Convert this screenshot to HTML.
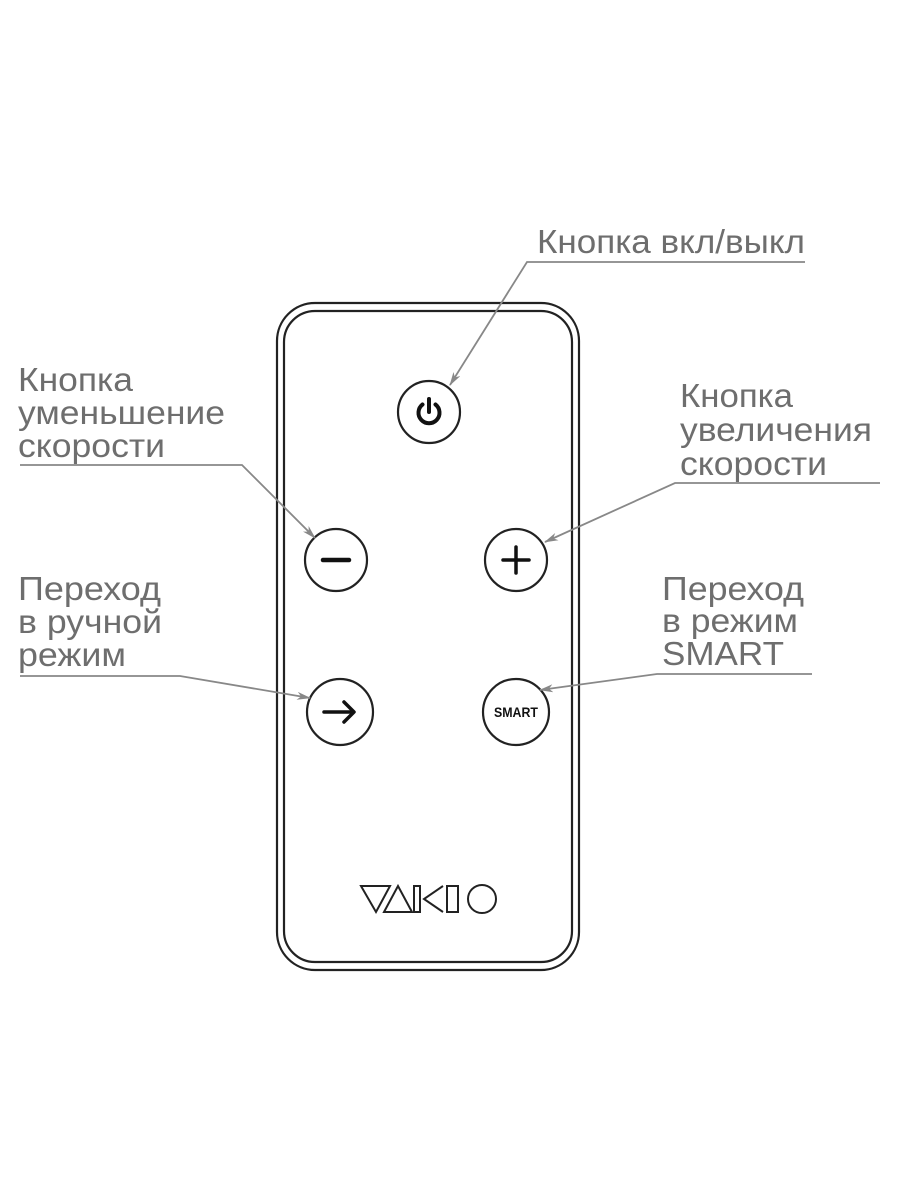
<!DOCTYPE html>
<html><head><meta charset="utf-8"><style>
html,body{margin:0;padding:0;background:#fff;}
svg{display:block;}
text{font-family:"Liberation Sans",sans-serif;font-size:33px;fill:#6e6e6e;}
</style></head><body>
<svg width="900" height="1200" viewBox="0 0 900 1200" xmlns="http://www.w3.org/2000/svg">
<defs>
<marker id="ar" markerWidth="14" markerHeight="8" refX="13" refY="4" orient="auto" markerUnits="userSpaceOnUse">
<path d="M0,0 L14,4 L0,8 L4,4 Z" fill="#888"/>
</marker>
</defs>
<rect x="277" y="303" width="302" height="667" rx="38" fill="none" stroke="#222" stroke-width="2.2"/>
<rect x="284" y="311" width="288" height="651" rx="31" fill="none" stroke="#222" stroke-width="2.2"/>
<g fill="none" stroke="#222" stroke-width="2.2">
<circle cx="429" cy="412" r="31"/>
<circle cx="336" cy="560" r="31"/>
<circle cx="516" cy="560" r="31"/>
<circle cx="340" cy="712" r="33"/>
<circle cx="516" cy="712" r="33"/>
</g>
<path d="M422.5,404.5 A10.5,10.5 0 1 0 435.5,404.5" fill="none" stroke="#111" stroke-width="4" stroke-linecap="round"/>
<line x1="429" y1="399" x2="429" y2="412" stroke="#111" stroke-width="4" stroke-linecap="round"/>
<line x1="323" y1="560" x2="349" y2="560" stroke="#111" stroke-width="4.5" stroke-linecap="round"/>
<line x1="503" y1="560" x2="529" y2="560" stroke="#111" stroke-width="3.5" stroke-linecap="round"/>
<line x1="516" y1="547" x2="516" y2="573" stroke="#111" stroke-width="3.5" stroke-linecap="round"/>
<line x1="324" y1="712" x2="353" y2="712" stroke="#111" stroke-width="3.5" stroke-linecap="round"/>
<path d="M344,702 L354,712 L344,722" fill="none" stroke="#111" stroke-width="3.5" stroke-linecap="round" stroke-linejoin="round"/>
<text x="516" y="717" text-anchor="middle" textLength="44" lengthAdjust="spacingAndGlyphs" style="font-size:14px;font-weight:bold;fill:#111">SMART</text>
<g fill="none" stroke="#222" stroke-width="2">
<path d="M361,886 L390,886 L376,912 Z"/>
<path d="M384,912 L412,912 L398,886 Z"/>
<rect x="414" y="886" width="6" height="26"/>
<path d="M443,886 L424,899 L443,912"/>
<rect x="447" y="886" width="11" height="26"/>
<circle cx="482" cy="899" r="14"/>
</g>
<text x="537" y="253" textLength="268" lengthAdjust="spacingAndGlyphs">Кнопка вкл/выкл</text>
<text x="18" y="391" textLength="115" lengthAdjust="spacingAndGlyphs">Кнопка</text>
<text x="18" y="424" textLength="207" lengthAdjust="spacingAndGlyphs">уменьшение</text>
<text x="18" y="457" textLength="147" lengthAdjust="spacingAndGlyphs">скорости</text>
<text x="680" y="407" textLength="113" lengthAdjust="spacingAndGlyphs">Кнопка</text>
<text x="680" y="441" textLength="192" lengthAdjust="spacingAndGlyphs">увеличения</text>
<text x="680" y="475" textLength="147" lengthAdjust="spacingAndGlyphs">скорости</text>
<text x="18" y="600" textLength="143" lengthAdjust="spacingAndGlyphs">Переход</text>
<text x="18" y="633" textLength="144" lengthAdjust="spacingAndGlyphs">в ручной</text>
<text x="18" y="666" textLength="108" lengthAdjust="spacingAndGlyphs">режим</text>
<text x="662" y="600" textLength="142" lengthAdjust="spacingAndGlyphs">Переход</text>
<text x="662" y="632" textLength="136" lengthAdjust="spacingAndGlyphs">в режим</text>
<text x="662" y="665" textLength="122" lengthAdjust="spacingAndGlyphs">SMART</text>
<g fill="none" stroke="#888" stroke-width="1.8">
<polyline points="805,262 527,262 450,385" marker-end="url(#ar)"/>
<polyline points="20,465 242,465 315,538" marker-end="url(#ar)"/>
<polyline points="880,483 675,483 545,542" marker-end="url(#ar)"/>
<polyline points="20,676 180,676 310,698" marker-end="url(#ar)"/>
<polyline points="812,674 657,674 540,690" marker-end="url(#ar)"/>
</g>
</svg>
</body></html>
